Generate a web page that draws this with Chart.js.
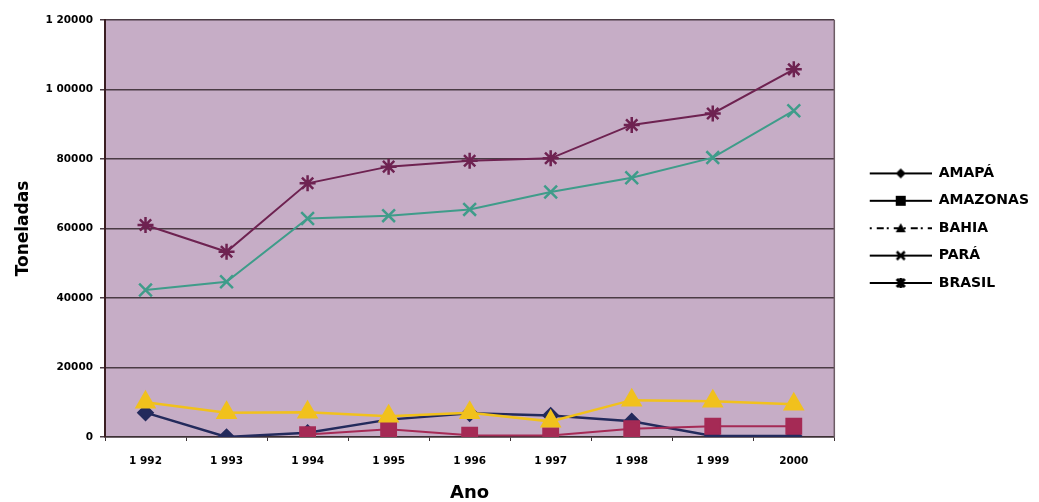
<!DOCTYPE html>
<html>
<head>
<meta charset="utf-8">
<title>Produção por estado</title>
<script src="https://cdn.jsdelivr.net/npm/chart.js@4/dist/chart.umd.min.js"></script>
<style>
  html, body { margin: 0; padding: 0; background: #ffffff; }
  #wrap { width: 1039px; height: 502px; }
</style>
</head>
<body>
<div id="wrap"><canvas id="chart" width="1039" height="502"></canvas></div>
<script>
// Anos (eixo X)
const anos = ['1 992', '1 993', '1 994', '1 995', '1 996', '1 997', '1 998', '1 999', '2000'];

// Toneladas por série
const amapa    = [7000, 0, 1200, 5000, 6800, 6200, 4500, 300, 300];
const amazonas = [null, null, 700, 2200, 500, 400, 2400, 3100, 3100];
const bahia    = [10000, 7000, 7100, 6000, 7000, 4500, 10600, 10300, 9400];
const para     = [42300, 44700, 62900, 63700, 65500, 70500, 74600, 80400, 93900];
const brasil   = [61000, 53300, 73000, 77800, 79500, 80200, 89800, 93100, 105800];

// Rótulos do eixo Y
const rotulosY = ['0', '20000', '40000', '60000', '80000', '1 00000', '1 20000'];

const FONTE = '"DejaVu Sans", sans-serif';

// Ícone de legenda: linha preta com o marcador da série
function iconeLegenda(forma, tracejado) {
  const c = document.createElement('canvas');
  c.width = 84; c.height = 16;
  const g = c.getContext('2d');
  const x0 = 22, x1 = 84, y = 8, cx = 53;
  g.strokeStyle = '#000'; g.fillStyle = '#000'; g.lineWidth = 2;
  g.setLineDash(tracejado ? [2, 5, 7, 3] : []);
  g.beginPath(); g.moveTo(x0, y); g.lineTo(x1, y); g.stroke();
  g.setLineDash([]);
  g.beginPath();
  if (forma === 'diamante') {
    g.moveTo(cx - 5, y); g.lineTo(cx, y - 5); g.lineTo(cx + 5, y); g.lineTo(cx, y + 5); g.closePath(); g.fill();
  } else if (forma === 'quadrado') {
    g.rect(cx - 5, y - 5, 10, 10); g.fill();
  } else if (forma === 'triangulo') {
    g.moveTo(cx, y - 5); g.lineTo(cx + 5, y + 4); g.lineTo(cx - 5, y + 4); g.closePath(); g.fill();
  } else if (forma === 'x') {
    g.lineWidth = 2.5;
    g.moveTo(cx - 4, y - 4); g.lineTo(cx + 4, y + 4);
    g.moveTo(cx + 4, y - 4); g.lineTo(cx - 4, y + 4); g.stroke();
  } else if (forma === 'estrela') {
    g.lineWidth = 3;
    g.moveTo(cx - 4, y - 4); g.lineTo(cx + 4, y + 4);
    g.moveTo(cx + 4, y - 4); g.lineTo(cx - 4, y + 4);
    g.moveTo(cx, y - 5); g.lineTo(cx, y + 5); g.stroke();
  }
  return c;
}

const icones = [
  iconeLegenda('diamante', false),
  iconeLegenda('quadrado', false),
  iconeLegenda('triangulo', true),
  iconeLegenda('x', false),
  iconeLegenda('estrela', false)
];

// Fundo da área de plotagem e moldura direita
const moldura = {
  id: 'moldura',
  beforeDraw(chart) {
    const { ctx, chartArea: a } = chart;
    ctx.save();
    ctx.fillStyle = '#c6adc6';
    ctx.fillRect(a.left, a.top, a.right - a.left, a.bottom - a.top);
    ctx.restore();
  },
  beforeDatasetsDraw(chart) {
    const { ctx, chartArea: a } = chart;
    ctx.save();
    ctx.strokeStyle = '#6c5c64';
    ctx.lineWidth = 1.5;
    ctx.beginPath();
    ctx.moveTo(a.right, a.top);
    ctx.lineTo(a.right, a.bottom);
    ctx.stroke();
    ctx.restore();
  }
};

new Chart(document.getElementById('chart'), {
  type: 'line',
  data: {
    labels: anos,
    datasets: [
      { label: 'AMAPÁ', data: amapa, order: 5, borderColor: '#232a5c', backgroundColor: '#232a5c',
        borderWidth: 2.5, pointStyle: 'rectRot', pointRadius: 7, pointHoverRadius: 7 },
      { label: 'AMAZONAS', data: amazonas, order: 4, borderColor: '#a52a55', backgroundColor: '#a52a55',
        borderWidth: 2, pointStyle: 'rect', pointRadius: 10.5, pointHoverRadius: 10.5 },
      { label: 'BAHIA', data: bahia, order: 3, borderColor: '#f1c11c', backgroundColor: '#f1c11c',
        borderWidth: 2.5, pointStyle: 'triangle', pointRadius: 10, pointHoverRadius: 10 },
      { label: 'PARÁ', data: para, order: 2, borderColor: '#3f9c8a', backgroundColor: '#3f9c8a',
        borderWidth: 2, pointStyle: 'crossRot', pointRadius: 9, pointHoverRadius: 9, pointBorderWidth: 2.5 },
      { label: 'BRASIL', data: brasil, order: 1, borderColor: '#6e2251', backgroundColor: '#6e2251',
        borderWidth: 2, pointStyle: 'star', pointRadius: 8, pointHoverRadius: 8, pointBorderWidth: 2.5 }
    ]
  },
  options: {
    responsive: false,
    animation: false,
    devicePixelRatio: 1,
    spanGaps: false,
    layout: { padding: { left: 4, top: 20, right: 0, bottom: 0 } },
    plugins: {
      tooltip: { enabled: false },
      legend: {
        position: 'right',
        align: 'start',
        // bloco vazio acima das entradas, para baixá-las até o meio do gráfico
        title: { display: true, text: '', padding: { top: 123, bottom: 0 },
                 font: { family: FONTE, size: 10, lineHeight: 1 } },
        labels: {
          usePointStyle: true,
          pointStyleWidth: 84,
          padding: 13.4,
          color: '#000',
          font: { family: FONTE, size: 14, weight: 'bold' },
          generateLabels(chart) {
            return chart.data.datasets.map((ds, i) => ({
              text: ds.label,
              pointStyle: icones[i],
              fillStyle: '#000',
              strokeStyle: '#000',
              lineWidth: 0,
              fontColor: '#000',
              hidden: false,
              datasetIndex: i
            }));
          }
        }
      }
    },
    scales: {
      x: {
        offset: true,
        afterFit(scale) { scale.height = 65; },
        grid: { offset: true, drawOnChartArea: false, drawTicks: true, tickLength: 4, color: '#3c3034', lineWidth: 1 },
        border: { display: true, color: '#3c3034', width: 1.5 },
        ticks: { color: '#000', padding: 14, maxRotation: 0, autoSkip: false,
                 font: { family: FONTE, size: 10.5, weight: 'bold' } },
        title: { display: true, text: 'Ano', color: '#000', padding: { top: 0, bottom: 0 },
                 font: { family: FONTE, size: 18, weight: 'bold', lineHeight: 1 } }
      },
      y: {
        min: 0, max: 120000,
        afterFit(scale) { scale.width = 101; },
        grid: { color: '#4a3b44', lineWidth: 1.5, tickLength: 5 },
        border: { display: true, color: '#3a1e22', width: 2 },
        ticks: {
          stepSize: 20000, padding: 7, color: '#000',
          font: { family: FONTE, size: 10.5, weight: 'bold' },
          callback(value, index) { return rotulosY[index]; }
        },
        title: { display: true, text: 'Toneladas', color: '#000', padding: { top: 9, bottom: 0 },
                 font: { family: FONTE, size: 17, weight: 'bold' } }
      }
    }
  },
  plugins: [moldura]
});
</script>
</body>
</html>
